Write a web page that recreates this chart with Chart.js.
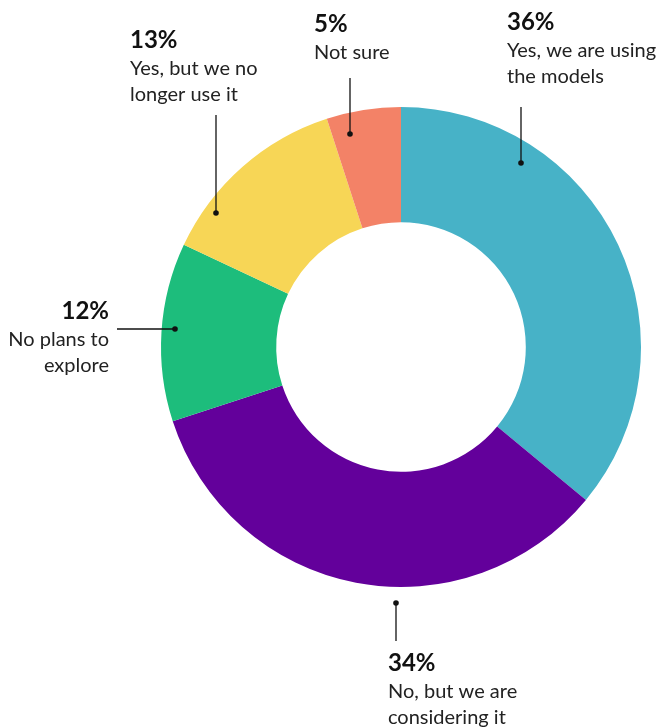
<!DOCTYPE html>
<html>
<head>
<meta charset="utf-8">
<script src="https://cdn.jsdelivr.net/npm/chart.js@4"></script>
<style>
  html, body { margin: 0; padding: 0; background: #fff; }
  #wrap { width: 662px; height: 728px; position: relative; }
</style>
</head>
<body>
<div id="wrap"><canvas id="donut"></canvas></div>
<script>
// Survey answers, clockwise from 12 o'clock
const categories = [
    ['Yes, we are using', 'the models'],
    ['No, but we are', 'considering it'],
    ['No plans to', 'explore'],
    ['Yes, but we no', 'longer use it'],
    ['Not sure']
];
const shares = [36, 34, 12, 13, 5];
const sliceColors = ['#47B2C7', '#63009B', '#1DBD7C', '#F7D656', '#F38267'];

// Where each callout sits: dot (relative to the ring centre), line end and text block
const callouts = [
    { dot: [120, -184], lineTo: [120, -240], text: [507, 22], align: 'left' },
    { dot: [-5, 256], lineTo: [-5, 294], text: [388, 663], align: 'left' },
    { dot: [-226, -18], lineTo: [-284, -18], text: [109, 311], align: 'right' },
    { dot: [-185, -134], lineTo: [-185, -232], text: [130, 40], align: 'left' },
    { dot: [-51, -213], lineTo: [-51, -269], text: [314, 24], align: 'left' }
];

const FONT = 'Lato, "Noto Sans", sans-serif';

// Draws the percentage + label blocks and their leader lines
const calloutPlugin = {
    id: 'callouts',
    afterDraw(chart) {
        const ctx = chart.ctx;
        const arc = chart.getDatasetMeta(0).data[0];
        const cx = arc.x, cy = arc.y;
        ctx.save();
        callouts.forEach((c, i) => {
            const dx = cx + c.dot[0], dy = cy + c.dot[1];
            ctx.strokeStyle = '#111';
            ctx.lineWidth = 1.3;
            ctx.beginPath();
            ctx.moveTo(dx, dy);
            ctx.lineTo(cx + c.lineTo[0], cy + c.lineTo[1]);
            ctx.stroke();
            ctx.fillStyle = '#111';
            ctx.beginPath();
            ctx.arc(dx, dy, 2.8, 0, Math.PI * 2);
            ctx.fill();

            ctx.textAlign = c.align;
            ctx.textBaseline = 'middle';
            ctx.fillStyle = '#111';
            ctx.font = 'bold 24px ' + FONT;
            ctx.fillText(shares[i] + '%', c.text[0], c.text[1]);
            ctx.fillStyle = '#222';
            ctx.font = '20px ' + FONT;
            categories[i].forEach((line, k) => {
                ctx.fillText(line, c.text[0], c.text[1] + 29 + k * 26);
            });
        });
        ctx.restore();
    }
};

new Chart(document.getElementById('donut'), {
    type: 'doughnut',
    data: {
        labels: categories.map(l => l.join(' ')),
        datasets: [{
            data: shares,
            backgroundColor: sliceColors,
            borderWidth: 0
        }]
    },
    options: {
        responsive: true,
        maintainAspectRatio: false,
        animation: false,
        cutout: '52%',
        layout: { padding: { top: 107, bottom: 141, left: 161, right: 21 } },
        plugins: {
            legend: { display: false },
            tooltip: { enabled: false }
        }
    },
    plugins: [calloutPlugin]
});
</script>
</body>
</html>
